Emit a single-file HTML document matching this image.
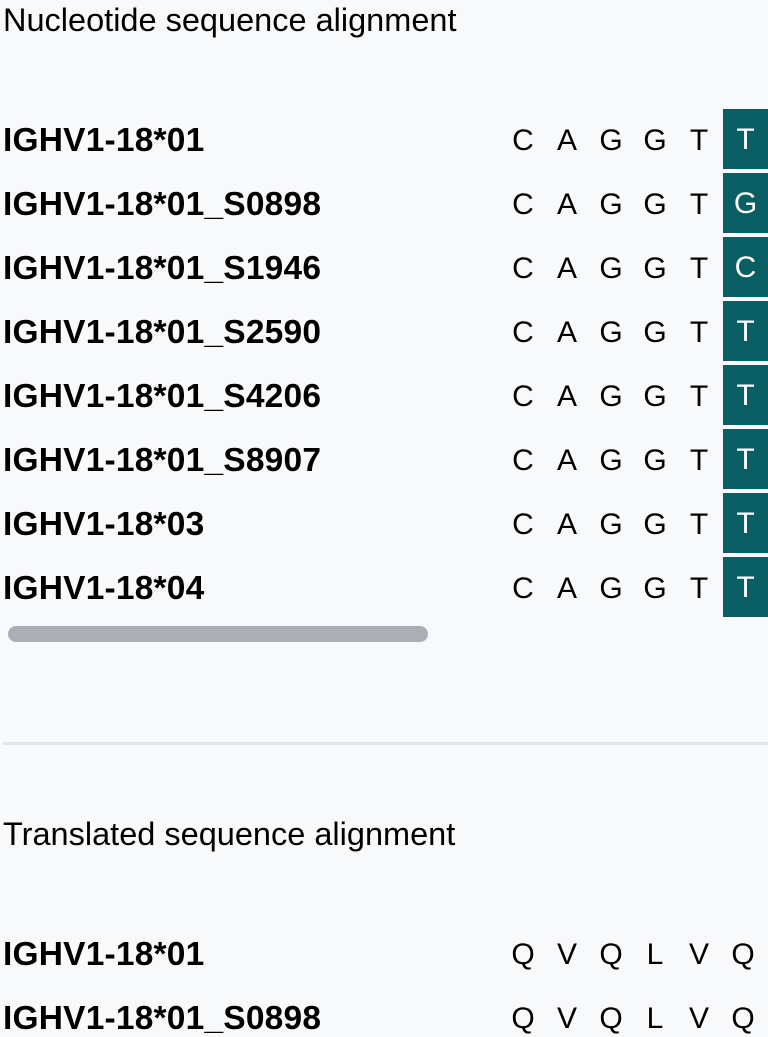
<!DOCTYPE html>
<html><head><meta charset="utf-8"><style>
html,body{margin:0;padding:0;width:768px;height:1024px;overflow:hidden;background:#f8f9fb;font-family:"Liberation Sans",Arial,sans-serif;color:#000}
.t{position:absolute;left:3px;font-size:32.5px;white-space:nowrap;line-height:1}
.lab{position:absolute;left:3px;font-weight:bold;font-size:33.5px;white-space:nowrap;line-height:1;letter-spacing:0.2px}
.c{position:absolute;width:44px;text-align:center;font-size:30px;line-height:1}
.hl{position:absolute;left:723px;width:45px;height:60px;background:#085e63}
.hl span{position:absolute;left:0;right:0;top:16px;text-align:center;color:#fff;font-size:30px;line-height:1}
</style></head><body>
<div class="t" style="top:4px">Nucleotide sequence alignment</div>
<div id="nuc"></div>
<div style="position:absolute;left:8px;top:626px;width:420px;height:16px;border-radius:8px;background:#abafb5"></div>
<div style="position:absolute;left:3px;top:742px;width:765px;height:3px;background:#e3e5e8"></div>
<div class="t" style="top:818px">Translated sequence alignment</div>
<div id="aa"></div>
<script>
const nucNames=["IGHV1-18*01","IGHV1-18*01_S0898","IGHV1-18*01_S1946","IGHV1-18*01_S2590","IGHV1-18*01_S4206","IGHV1-18*01_S8907","IGHV1-18*03","IGHV1-18*04"];
const nucSeqs=["CAGGTT","CAGGTG","CAGGTC","CAGGTT","CAGGTT","CAGGTT","CAGGTT","CAGGTT"];
const aaNames=["IGHV1-18*01","IGHV1-18*01_S0898"];
const aaSeqs=["QVQLVQ","QVQLVQ"];
function build(container,names,seqs,y0,hlLast){
  const root=document.getElementById(container);
  names.forEach((n,i)=>{
    const cy=y0+i*64;
    const l=document.createElement('div');l.className='lab';l.textContent=n;l.style.top=(cy-15)+'px';
    
    
    root.appendChild(l);
    [...seqs[i]].forEach((ch,j)=>{
      if(hlLast&&j===seqs[i].length-1){
        const b=document.createElement('div');b.className='hl';b.style.top=(cy-30)+'px';
        
        
        const s=document.createElement('span');s.textContent=ch;b.appendChild(s);root.appendChild(b);
      }else{
        const c=document.createElement('div');c.className='c';c.textContent=ch;
        c.style.left=(501+j*44)+'px';c.style.top=(cy-13)+'px';
        
        
        root.appendChild(c);
      }
    });
  });
}
build('nuc',nucNames,nucSeqs,139,true);
build('aa',aaNames,aaSeqs,953,false);
</script>
</body></html>
